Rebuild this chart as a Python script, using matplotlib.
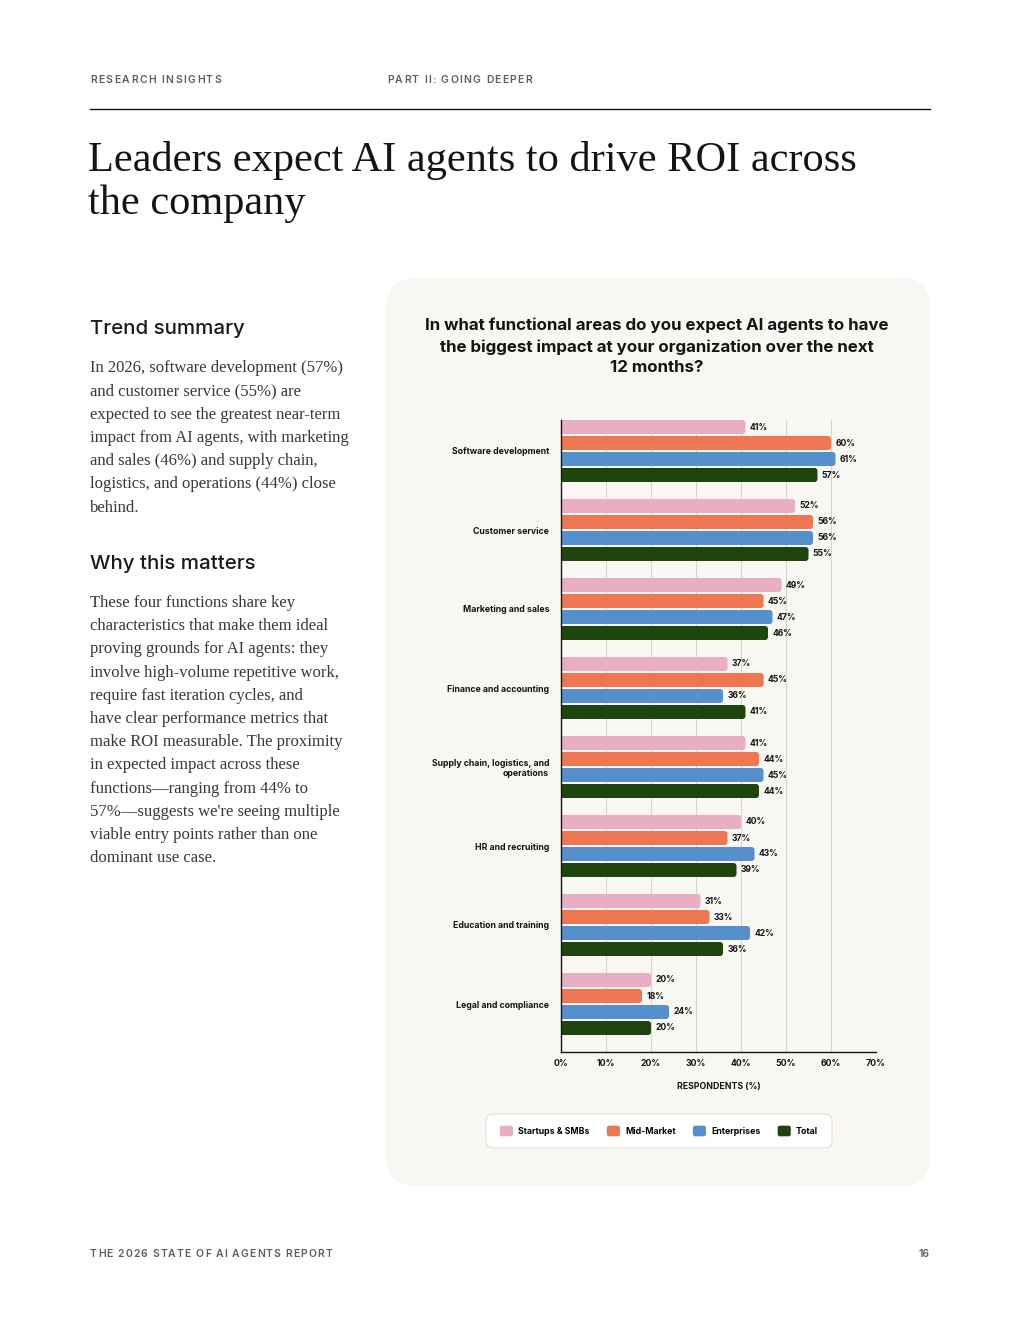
import matplotlib
matplotlib.use("Agg")
import matplotlib.pyplot as plt
from matplotlib.patches import FancyBboxPatch, Patch
from matplotlib.font_manager import FontProperties
from matplotlib.legend_handler import HandlerPatch
import numpy as np

# ---------------- data ----------------
categories = [
    "Software development",
    "Customer service",
    "Marketing and sales",
    "Finance and accounting",
    "Supply chain, logistics, and\noperations",
    "HR and recruiting",
    "Education and training",
    "Legal and compliance",
]
series_names = ["Startups & SMBs", "Mid-Market", "Enterprises", "Total"]
startups = [41, 52, 49, 37, 41, 40, 31, 20]
mid_market = [60, 56, 45, 45, 44, 37, 33, 18]
enterprises = [61, 56, 47, 36, 45, 43, 42, 24]
total = [57, 55, 46, 41, 44, 39, 36, 20]
x_ticks = [0, 10, 20, 30, 40, 50, 60, 70]
x_tick_labels = ["0%", "10%", "20%", "30%", "40%", "50%", "60%", "70%"]

colors = ["#E9ADC4", "#EE7650", "#5590CD", "#1F440E"]

W, H = 1020, 1320
fig = plt.figure(figsize=(W / 100, H / 100), dpi=100)
fig.patch.set_facecolor("white")
renderer = fig.canvas.get_renderer()

# background axes in pixel coordinates
bg = fig.add_axes([0, 0, 1, 1])
bg.set_xlim(0, W)
bg.set_ylim(H, 0)
bg.axis("off")

SANS = ["Inter", "DejaVu Sans"]
SERIF = ["Liberation Serif", "DejaVu Serif"]


def text_width(s, prop):
    w1, _, _ = renderer.get_text_width_height_descent(s + "x", prop, ismath=False)
    w0, _, _ = renderer.get_text_width_height_descent("x", prop, ismath=False)
    return w1 - w0


def spaced_text(x, y, s, target_width, prop, color):
    natural = text_width(s, prop)
    spacing = (target_width - natural) / max(len(s) - 1, 1)
    for i, ch in enumerate(s):
        if ch == " ":
            continue
        off = text_width(s[:i], prop) if i else 0.0
        bg.text(x + off + i * spacing, y, ch, fontproperties=prop, color=color,
                va="center", ha="left")


hdr_prop = FontProperties(family=SANS, weight="semibold", size=7.5)
HDR_C = "#5E5E5E"
spaced_text(90, 80, "RESEARCH INSIGHTS", 131, hdr_prop, HDR_C)
spaced_text(387, 80, "PART II: GOING DEEPER", 145, hdr_prop, HDR_C)
bg.plot([90, 930], [109, 109], color="#111111", lw=1.0)

# page title
bg.text(88, 171, "Leaders expect AI agents to drive ROI across", fontsize=30.5, color="#141414",
        family=SERIF, va="baseline", ha="left")
bg.text(88, 214, "the company", fontsize=30.5, color="#141414",
        family=SERIF, va="baseline", ha="left")

# left column
bg.text(90, 329, "Trend summary", fontsize=14.7, color="#1A1A1A", family=SANS,
        fontweight="medium", va="center", ha="left")
trend_lines = [
    "In 2026, software development (57%)",
    "and customer service (55%) are",
    "expected to see the greatest near-term",
    "impact from AI agents, with marketing",
    "and sales (46%) and supply chain,",
    "logistics, and operations (44%) close",
    "behind.",
]
for i, line in enumerate(trend_lines):
    bg.text(90, 368 + i * 23.3, line, fontsize=12.0, color="#383838", family=SERIF,
            va="center", ha="left")

bg.text(90, 564, "Why this matters", fontsize=14.7, color="#1A1A1A", family=SANS,
        fontweight="medium", va="center", ha="left")
why_lines = [
    "These four functions share key",
    "characteristics that make them ideal",
    "proving grounds for AI agents: they",
    "involve high-volume repetitive work,",
    "require fast iteration cycles, and",
    "have clear performance metrics that",
    "make ROI measurable. The proximity",
    "in expected impact across these",
    "functions\u2014ranging from 44% to",
    "57%\u2014suggests we're seeing multiple",
    "viable entry points rather than one",
    "dominant use case.",
]
for i, line in enumerate(why_lines):
    bg.text(90, 603 + i * 23.2, line, fontsize=12.0, color="#383838", family=SERIF,
            va="center", ha="left")

# footer
spaced_text(90, 1254, "THE 2026 STATE OF AI AGENTS REPORT", 242, hdr_prop, HDR_C)
bg.text(930, 1254, "16", fontproperties=hdr_prop, color=HDR_C, va="center", ha="right")

# card
card = FancyBboxPatch((386, 278), 930 - 386, 1186 - 278,
                      boxstyle="round,pad=0,rounding_size=30",
                      facecolor="#F8F7F3", edgecolor="none")
bg.add_patch(card)

# legend frame
leg_frame = FancyBboxPatch((486, 1114), 832 - 486, 1148 - 1114,
                           boxstyle="round,pad=0,rounding_size=7",
                           facecolor="white", edgecolor="#E6E1D8", lw=0.9)
bg.add_patch(leg_frame)

# chart title
bg.text(657, 346.5, "In what functional areas do you expect AI agents to have\n"
        "the biggest impact at your organization over the next\n12 months?",
        fontsize=12.2, color="#141414", family=SANS, fontweight="bold",
        ha="center", va="center", linespacing=1.46)

# ---------------- chart axes ----------------
x0, x1 = 561, 876
y_top, y_bot = 420, 1052
ax = fig.add_axes([x0 / W, 1 - y_bot / H, (x1 - x0) / W, (y_bot - y_top) / H])
ax.set_facecolor("none")

pitch = 79.0
step = 16.0 / pitch
bh = 14.0 / pitch
xpp = 70.0 / (x1 - x0)          # x data units per pixel
ypp = 1.0 / pitch               # y data units per pixel
r = 3.0 * xpp
asp = ypp / xpp

y = np.arange(len(categories))
all_series = [startups, mid_market, enterprises, total]
for k, (vals, c) in enumerate(zip(all_series, colors)):
    bc = ax.barh(y + (k - 1.5) * step, vals, height=bh, color=c,
                 label=series_names[k], zorder=3)
    for rect in bc.patches:
        rect.set_visible(False)
        rb = FancyBboxPatch((rect.get_x() - 2 * r, rect.get_y()),
                            rect.get_width() + 2 * r, rect.get_height(),
                            boxstyle=f"round,pad=0,rounding_size={r}",
                            mutation_aspect=asp, facecolor=c, edgecolor="none",
                            zorder=3)
        ax.add_patch(rb)
    ax.bar_label(bc, labels=[f"{v}%" for v in vals], padding=3, fontsize=6.2,
                 fontweight="bold", family=SANS, color="#141414")

ax.set_xlim(0, 70)
ax.set_ylim((y_bot - 451) / pitch, -(451 - y_top) / pitch)
ax.set_xticks(x_ticks)
ax.set_xticklabels(x_tick_labels, fontsize=6.3, fontweight="bold", family=SANS,
                   color="#141414")
ax.set_yticks(y)
ax.set_yticklabels(categories, fontsize=6.3, fontweight="bold", family=SANS,
                   color="#141414", linespacing=1.1)
ax.tick_params(axis="both", length=0)
ax.tick_params(axis="x", pad=5)
ax.tick_params(axis="y", pad=8.5)
ax.grid(axis="x", color="#D6D4CF", lw=0.8, zorder=0)
ax.set_axisbelow(True)
for s in ["top", "right"]:
    ax.spines[s].set_visible(False)
for s in ["left", "bottom"]:
    ax.spines[s].set_color("#141414")
    ax.spines[s].set_linewidth(1.0)
    ax.spines[s].set_zorder(4)
ax.set_xlabel("RESPONDENTS (%)", fontsize=6.3, fontweight="bold", family=SANS,
              color="#141414", labelpad=10)


# legend (frame drawn separately above)
def rounded_handle(legend, orig_handle, xdescent, ydescent, width, height, fontsize):
    return FancyBboxPatch((-xdescent, -ydescent), width, height,
                          boxstyle="round,pad=0,rounding_size=1.6")


proxies = [Patch(facecolor=c, edgecolor="none") for c in colors]
leg = fig.legend(handles=proxies, labels=series_names, loc="center",
                 bbox_to_anchor=(659 / W, 1 - 1131 / H), ncol=4, frameon=False,
                 prop={"family": SANS, "weight": "bold", "size": 6.3},
                 handlelength=1.5, handleheight=1.5, handletextpad=0.6,
                 columnspacing=1.95, borderpad=0, borderaxespad=0,
                 handler_map={Patch: HandlerPatch(patch_func=rounded_handle)})

fig.savefig("out.png", dpi=100, facecolor="white")
